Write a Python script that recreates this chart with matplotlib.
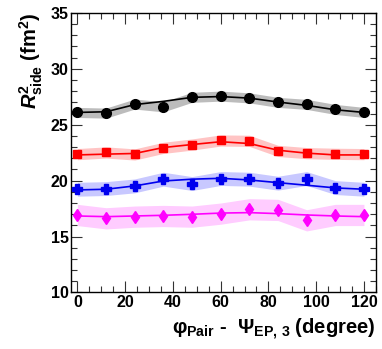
import matplotlib
matplotlib.use("Agg")
import matplotlib.pyplot as plt
from matplotlib.ticker import MultipleLocator

plt.rcParams['font.family'] = ['Liberation Sans', 'DejaVu Sans']
plt.rcParams['font.weight'] = 'bold'
plt.rcParams['mathtext.fontset'] = 'custom'
plt.rcParams['mathtext.rm'] = 'Liberation Sans:bold'
plt.rcParams['mathtext.bf'] = 'Liberation Sans:bold'
plt.rcParams['mathtext.it'] = 'Liberation Sans:italic:bold'
plt.rcParams['mathtext.sf'] = 'Liberation Sans:bold'

phi = [0, 12, 24, 36, 48, 60, 72, 84, 96, 108, 120]

black_pts = [26.10, 26.04, 26.85, 26.60, 27.45, 27.56, 27.40, 27.00, 26.82, 26.37, 26.10]
black_fit = [26.10, 26.16, 26.80, 27.09, 27.45, 27.52, 27.38, 27.03, 26.73, 26.34, 26.10]
black_err = [0.45] * 11

red_pts = [22.37, 22.52, 22.34, 22.93, 23.23, 23.59, 23.56, 22.66, 22.46, 22.40, 22.37]
red_fit = [22.30, 22.37, 22.43, 22.96, 23.23, 23.48, 23.32, 22.72, 22.46, 22.30, 22.30]
red_err = [0.50] * 11

blue_pts = [19.23, 19.29, 19.53, 20.13, 19.74, 20.19, 20.13, 19.77, 20.19, 19.38, 19.23]
blue_fit = [19.17, 19.23, 19.53, 19.97, 20.13, 20.21, 20.06, 19.82, 19.59, 19.35, 19.23]
blue_err = [0.62] * 11

mag_pts = [16.93, 16.63, 16.78, 16.84, 16.78, 17.05, 17.44, 17.38, 16.45, 16.93, 16.93]
mag_fit = [16.84, 16.78, 16.84, 16.90, 16.99, 17.10, 17.14, 17.05, 16.93, 16.84, 16.78]
mag_err = [0.95] * 11

series = [
    (black_pts, black_fit, black_err, 'black', '#bcbcbc', 'o', 7.0),
    (red_pts, red_fit, red_err, '#ff0000', '#ffc4c4', 's', 6.3),
    (blue_pts, blue_fit, blue_err, '#0000ee', '#c8c8ff', 'P', 7.5),
    (mag_pts, mag_fit, mag_err, '#ff00ff', '#ffccff', 'd', 6.0),
]

fig = plt.figure(figsize=(3.82, 3.49), dpi=100)
ax = fig.add_axes([0.187, 0.162, 0.797, 0.801])

for pts, fit, err, col, bcol, mk, ms in series:
    lo = [p - e for p, e in zip(pts, err)]
    hi = [p + e for p, e in zip(pts, err)]
    ax.fill_between(phi, lo, hi, color=bcol, lw=0, zorder=1)
    ax.plot(phi, fit, color=col, lw=1.2, zorder=2)
    ax.plot(phi, pts, ls='none', marker=mk, color=col, ms=ms, mec=col, zorder=3)

ax.set_xlim(-2.5, 125)
ax.set_ylim(10, 35)
ax.xaxis.set_major_locator(MultipleLocator(20))
ax.xaxis.set_minor_locator(MultipleLocator(5))
ax.yaxis.set_major_locator(MultipleLocator(5))
ax.yaxis.set_minor_locator(MultipleLocator(1))
ax.tick_params(which='both', direction='in', top=True, right=True, width=0.8, color='#333333')
ax.tick_params(which='major', length=8, labelsize=11.5, pad=2)
ax.tick_params(which='minor', length=4)
for s in ax.spines.values():
    s.set_linewidth(1.0)
for lab in ax.get_xticklabels() + ax.get_yticklabels():
    lab.set_fontweight('bold')

ax.set_ylabel(r"$R^{2}_{\mathrm{side}}$ (fm$^{2}$)", fontsize=14.5, fontweight='bold',
              loc='top', labelpad=4)
ax.set_xlabel(r"$\mathrm{\varphi}_{\mathrm{Pair}}$ -  $\mathrm{\Psi}_{\mathrm{EP,\,3}}$ (degree)",
              fontsize=14.5, fontweight='bold', loc='right', labelpad=5)

fig.savefig("out.png", dpi=100)
